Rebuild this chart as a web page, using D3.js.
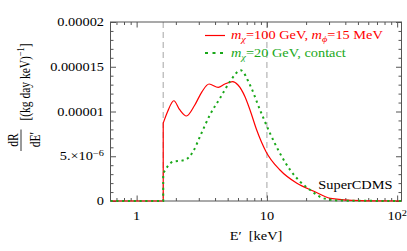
<!DOCTYPE html>
<html>
<head>
<meta charset="utf-8">
<script src="https://cdn.jsdelivr.net/npm/d3@7"></script>
<style>
  body { margin: 0; background: #fff; }
  svg text { font-family: "Liberation Serif", "Times New Roman", serif; }
</style>
</head>
<body>
<script>
// recoil spectrum, SuperCDMS-like exposure
var eDomain = [0.63, 108];           // keV, log axis
var yDomain = [0, 2e-5];
var markerE = [1.6, 10];             // dashed vertical lines

// m_chi = 100 GeV, m_phi = 15 MeV (red, solid)
var redE = [0.63, 1.6, 1.6, 1.73, 1.93, 2.14, 2.41, 2.79, 3.17, 3.6, 4.23, 4.76, 5.46, 6.0, 6.79, 7.42, 8.35, 9.85, 12.6, 17.0, 22.7, 30.7, 52, 108];
var redR = [0, 0, 8.7e-6, 10.0e-6, 11.2e-6, 10.2e-6, 9.5e-6, 10.7e-6, 12.2e-6, 13.07e-6, 12.7e-6, 13.07e-6, 13.33e-6, 12.96e-6, 11.65e-6, 10.17e-6, 7.93e-6, 5.51e-6, 3.46e-6, 1.98e-6, 1.12e-6, 0.30e-6, 0.05e-6, 0];

// m_chi = 20 GeV, contact (green, dotted)
var greenE = [0.63, 1.6, 1.6, 1.9, 2.34, 2.71, 3.06, 3.65, 4.36, 5.2, 6.29, 7.42, 8.86, 10.57, 12.6, 15.1, 18.0, 21.5, 27.2, 36.6, 108];
var greenR = [0, 0, 3.1e-6, 4.39e-6, 4.58e-6, 5.51e-6, 7.18e-6, 9.61e-6, 11.47e-6, 13.33e-6, 14.6e-6, 12.96e-6, 10.17e-6, 7.56e-6, 5.33e-6, 3.46e-6, 2.16e-6, 1.23e-6, 0.30e-6, 0.05e-6, 0];

var xMajor = [1, 10, 100];
var xMinor = [0.7, 0.8, 0.9, 2, 3, 4, 5, 6, 7, 8, 9, 20, 30, 40, 50, 60, 70, 80, 90];
var xLabels = [["1", ""], ["10", ""], ["10", "2"]];
var yMajor = [0, 5e-6, 1e-5, 1.5e-5, 2e-5];
var yMinor = [1e-6, 2e-6, 3e-6, 4e-6, 6e-6, 7e-6, 8e-6, 9e-6, 11e-6, 12e-6, 13e-6, 14e-6, 16e-6, 17e-6, 18e-6, 19e-6];
var yLabels = [["0", ""], ["5.\u00d710", "\u22126"], ["0.00001", ""], ["0.000015", ""], ["0.00002", ""]];

var legendText = [
  [["m", "i"], ["\u03c7", "s"], ["=100 GeV, ", ""], ["m", "i"], ["\u03d5", "s"], ["=15 MeV", ""]],
  [["m", "i"], ["\u03c7", "s"], ["=20 GeV, contact", ""]]
];

var W = 407, H = 251;
var pL = 110.5, pR = 401.5, pT = 22, pB = 201;
var fs = 11.5, sx = 1.25;   // glyphs come out wide in the original
var red = "#ff0000", green = "#1aa81a", frame = "#555";

var svg = d3.select("body").append("svg")
    .attr("width", W)
    .attr("height", H);

var x = d3.scaleLog().domain(eDomain).range([pL, pR]);
var y = d3.scaleLinear().domain(yDomain).range([pB, pT]);

svg.append("clipPath").attr("id", "plot")
  .append("rect")
    .attr("x", pL).attr("y", pT - 2)
    .attr("width", pR - pL).attr("height", pB - pT + 4);

// dashed markers
svg.selectAll(".marker")
    .data(markerE)
    .enter().append("line")
    .attr("class", "marker")
    .attr("x1", function(d) { return x(d); })
    .attr("x2", function(d) { return x(d); })
    .attr("y1", pT).attr("y2", pB)
    .attr("stroke", "#b4b4b4")
    .attr("stroke-width", 1.2)
    .attr("stroke-dasharray", "6,4");

// ticks, all pointing inwards
function ticks(axis, vals, len, tx, ty) {
  svg.append("g")
      .attr("transform", "translate(" + tx + "," + ty + ")")
      .call(axis.tickValues(vals).tickSizeInner(len).tickSizeOuter(0).tickFormat(""))
      .call(function(g) {
        g.select(".domain").remove();
        g.selectAll("line").attr("stroke", frame);
      });
}
ticks(d3.axisBottom(x), xMajor, -5.5, 0, pB);
ticks(d3.axisBottom(x), xMinor, -3, 0, pB);
ticks(d3.axisTop(x), xMajor, -5.5, 0, pT);
ticks(d3.axisTop(x), xMinor, -3, 0, pT);
ticks(d3.axisLeft(y), yMajor, -5.5, pL, 0);
ticks(d3.axisLeft(y), yMinor, -3, pL, 0);
ticks(d3.axisRight(y), yMajor, -5.5, pR, 0);
ticks(d3.axisRight(y), yMinor, -3, pR, 0);

svg.append("rect")
    .attr("x", pL).attr("y", pT)
    .attr("width", pR - pL).attr("height", pB - pT)
    .attr("fill", "none")
    .attr("stroke", frame)
    .attr("stroke-width", 1);

// curves: flat part + jump drawn straight, the rest smooth
function series(E, R) {
  return E.map(function(e, i) { return [e, R[i]]; });
}
function drawSeries(pts, color, width, dash) {
  var g = svg.append("g").attr("clip-path", "url(#plot)");
  var straight = d3.line()
      .x(function(d) { return x(d[0]); })
      .y(function(d) { return y(d[1]); });
  var smooth = d3.line()
      .x(function(d) { return x(d[0]); })
      .y(function(d) { return y(d[1]); })
      .curve(d3.curveMonotoneX);
  var d = straight(pts.slice(0, 3)) + smooth(pts.slice(2)).replace(/^M/, "L");
  var path = g.append("path")
      .attr("d", d)
      .attr("fill", "none")
      .attr("stroke", color)
      .attr("stroke-width", width);
  if (dash) path.attr("stroke-dasharray", dash);
}
drawSeries(series(redE, redR), red, 1.2, null);
drawSeries(series(greenE, greenR), green, 2, "2.2,3.6");

// tick labels
function label(tx, ty, parts, anchor, color) {
  var t = svg.append("text")
      .attr("transform", "translate(" + tx + "," + ty + ") scale(" + sx + ",1)")
      .attr("text-anchor", anchor)
      .attr("font-size", fs)
      .attr("fill", color || "#000");
  t.append("tspan").text(parts[0]);
  if (parts[1]) {
    t.append("tspan").attr("dy", -4.5).attr("font-size", fs * 0.72).text(parts[1]);
  }
  return t;
}
yMajor.forEach(function(v, i) {
  label(104, y(v) + 4, yLabels[i], "end");
});
xMajor.forEach(function(v, i) {
  label(x(v), 220, xLabels[i], "middle");
});

// axis titles
label((pL + pR) / 2, 240, ["E\u2032\u00a0\u00a0[keV]", ""], "middle");

function vtext(tx, ty, parts) {
  var t = svg.append("text")
      .attr("transform", "translate(" + tx + "," + ty + ") scale(" + sx + ",1) rotate(-90)")
      .attr("text-anchor", "middle")
      .attr("font-size", fs);
  t.append("tspan").text(parts[0]);
  if (parts[1]) t.append("tspan").attr("dy", -4.5).attr("font-size", fs * 0.72).text(parts[1]);
  if (parts[2]) t.append("tspan").attr("dy", 4.5).text(parts[2]);
}
vtext(18, 140, ["dR"]);
vtext(40, 139.5, ["dE\u2032"]);
vtext(30, 82, ["[(kg day keV)", "\u22121", "]"]);
svg.append("line")
    .attr("x1", 21).attr("x2", 21)
    .attr("y1", 129.5).attr("y2", 151)
    .attr("stroke", "#000").attr("stroke-width", 0.8);

// legend
var legColors = [red, green];
var legY = [39, 56.5];
legendText.forEach(function(parts, i) {
  var ly = legY[i] - 3.5;
  var sample = svg.append("line")
      .attr("x1", 205).attr("x2", 225)
      .attr("y1", ly).attr("y2", ly)
      .attr("stroke", legColors[i])
      .attr("stroke-width", i ? 2 : 1.2);
  if (i) sample.attr("stroke-dasharray", "3,4.5");

  var t = svg.append("text")
      .attr("transform", "translate(231," + legY[i] + ") scale(" + sx + ",1)")
      .attr("font-size", fs)
      .attr("fill", legColors[i]);
  var shift = 0;
  parts.forEach(function(p) {
    var s = t.append("tspan").text(p[0]);
    if (p[1] == "i") s.attr("font-style", "italic");
    if (p[1] == "s") {
      s.attr("font-style", "italic").attr("font-size", fs * 0.72).attr("dy", 3 - shift);
      shift = 3;
    } else if (shift) {
      s.attr("dy", -shift);
      shift = 0;
    }
  });
});

label(392.5, 189, ["SuperCDMS", ""], "end");
</script>
</body>
</html>
